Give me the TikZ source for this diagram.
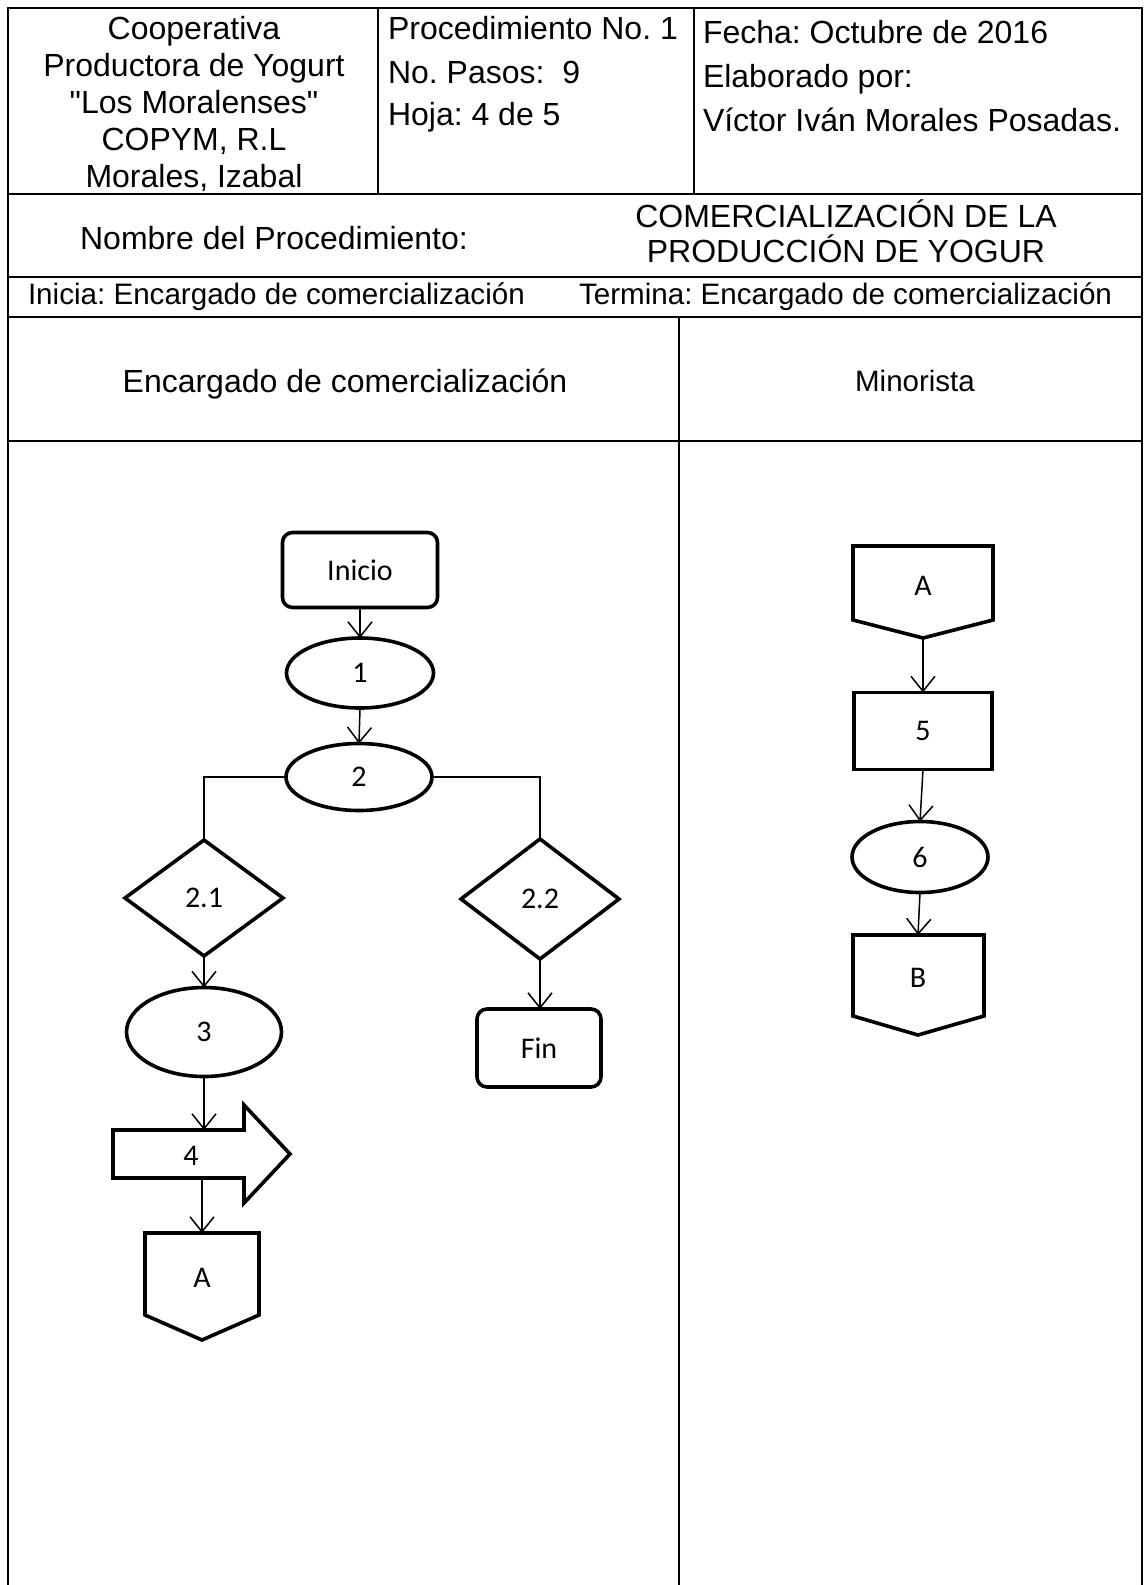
\documentclass[tikz,border=0pt]{standalone}
\usepackage{fontspec}
\setmainfont{Liberation Sans}
\newfontfamily\hdrfont{Liberation Sans}
\newfontfamily\calfont{Carlito}
\usetikzlibrary{arrows.meta,shapes.geometric}
\begin{document}
\frenchspacing
\begin{tikzpicture}[x=0.5pt,y=-0.5pt,
  tbl/.style={line width=1pt, line cap=rect},
  hd/.style={font=\hdrfont\frenchspacing\fontsize{16}{18}\selectfont, inner sep=0, outer sep=0},
  hdsmall/.style={font=\hdrfont\frenchspacing\fontsize{14.8}{17}\selectfont, inner sep=0, outer sep=0},
  shp/.style={draw, line width=1.8pt, line join=miter},
  lbl/.style={font=\calfont\fontsize{15}{17}\selectfont, inner sep=0, outer sep=0},
  term/.style={shp, rounded corners=5pt, lbl},
  oval/.style={shp, ellipse, lbl},
  dec/.style={shp, diamond, lbl},
  procbox/.style={shp, rectangle, lbl},
  arr/.style={line width=0.75pt, -{Straight Barb[length=7.5pt,width=12pt]}},
  ln/.style={line width=0.75pt}
]
\useasboundingbox (0,0) rectangle (1144,1585);
\fill[white] (0,0) rectangle (1144,1585);

% ---------- table ----------
\draw[tbl] (8,1585) -- (8,8) -- (1142,8) -- (1142,1585);
\draw[tbl] (8,194) -- (1142,194);
\draw[tbl] (8,277) -- (1142,277);
\draw[tbl] (8,317) -- (1142,317);
\draw[tbl] (8,441) -- (1142,441);
\draw[tbl] (378,8) -- (378,194);
\draw[tbl] (694,8) -- (694,194);
\draw[tbl] (679,317) -- (679,1585);

% ---------- header texts ----------
\node[hd, anchor=base] (h1a) at (194,39) {Cooperativa};
\node[hd, anchor=base] (h1b) at (194,76) {Productora de Yogurt};
\node[hd, anchor=base] (h1c) at (194,113) {"Los Moralenses"};
\node[hd, anchor=base] (h1d) at (194,150) {COPYM, R.L};
\node[hd, anchor=base] (h1e) at (194,187) {Morales, Izabal};

\node[hd, anchor=base west] (h2a) at (388,39) {Procedimiento No. 1};
\node[hd, anchor=base west] (h2b) at (388,83) {No. Pasos:\ \ 9};
\node[hd, anchor=base west] (h2c) at (388,125) {Hoja: 4 de 5};

\node[hd, anchor=base west] (h3a) at (703,43) {Fecha: Octubre de 2016};
\node[hd, anchor=base west] (h3b) at (703,87) {Elaborado por:};
\node[hd, anchor=base west] (h3c) at (703,131) {Víctor Iván Morales Posadas.};

\node[hd, anchor=base] (nom) at (274,249) {Nombre del Procedimiento:};
\node[hd, anchor=base] (tit1) at (846,227) {COMERCIALIZACIÓN DE LA};
\node[hd, anchor=base] (tit2) at (846,262) {PRODUCCIÓN DE YOGUR};

\node[hdsmall, anchor=base west] (ini) at (28,304) {Inicia: Encargado de comercialización};
\node[hdsmall, anchor=base west] (ter) at (579,304) {Termina: Encargado de comercialización};

\node[hd, anchor=base] (lane1) at (345,392) {Encargado de comercialización};
\node[hd, anchor=base, font=\hdrfont\fontsize{14.75}{17}\selectfont] (lane2) at (915,391) {Minorista};

% ---------- left lane flowchart ----------
\node[term, minimum width=77.5pt, minimum height=37.5pt] (inicio) at (360,570) {Inicio};
\node[oval, minimum width=73.5pt, minimum height=35pt] (e1) at (360,673) {1};
\node[oval, minimum width=73pt, minimum height=33.5pt] (e2) at (359,777) {2};
\node[dec, minimum width=79pt, minimum height=58pt] (d21) at (204,898) {2.1};
\node[dec, minimum width=79pt, minimum height=60pt] (d22) at (540,899) {2.2};
\node[oval, minimum width=77.5pt, minimum height=44.5pt] (e3) at (204,1032) {3};
\node[term, minimum width=62pt, minimum height=39pt] (fin) at (539,1048) {Fin};

\draw[shp] (113,1130) -- (244,1130) -- (244,1105) -- (290,1154) -- (244,1203) -- (244,1178) -- (113,1178) -- cycle;
\node[lbl] (n4) at (191,1156) {4};
\coordinate (a4top) at (204,1130);
\coordinate (a4bot) at (202,1178);

\draw[shp] (145,1233) -- (259,1233) -- (259,1315) -- (202,1340) -- (145,1315) -- cycle;
\node[lbl] (nA1) at (202,1278) {A};
\coordinate (cA1) at (202,1233);

\draw[arr] (inicio.south) -- (e1.north);
\draw[arr] (e1.south) -- (e2.north);
\draw[ln] (e2.west) -| (d21.north);
\draw[ln] (e2.east) -| (d22.north);
\draw[arr] (d21.south) -- (e3.north);
\draw[arr] (d22.south) -- (d22.south |- fin.north);
\draw[arr] (e3.south) -- (a4top);
\draw[arr] (a4bot) -- (cA1);

% ---------- right lane flowchart ----------
\draw[shp] (853,546) -- (993,546) -- (993,620) -- (923,638) -- (853,620) -- cycle;
\node[lbl] (nA2) at (923,586) {A};
\coordinate (cA2) at (923,638);
\node[procbox, minimum width=69pt, minimum height=38.5pt] (b5) at (923,731) {5};
\node[oval, minimum width=68pt, minimum height=35.5pt] (e6) at (920,857) {6};
\draw[shp] (853,935) -- (984,935) -- (984,1016) -- (918,1035) -- (853,1016) -- cycle;
\node[lbl] (nB) at (918,978) {B};
\coordinate (cB) at (918,935);

\draw[arr] (cA2) -- (b5.north);
\draw[arr] (b5.south) -- (e6.north);
\draw[arr] (e6.south) -- (cB);
\end{tikzpicture}
\end{document}
